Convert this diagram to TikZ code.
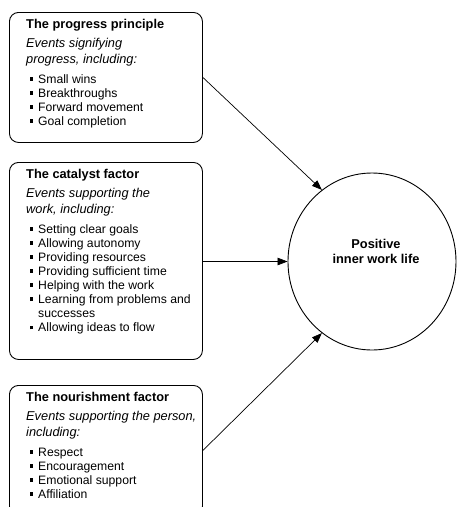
\documentclass[tikz,border=0pt]{standalone}
\usepackage{fontspec}
\setmainfont{Liberation Sans}
\usetikzlibrary{arrows.meta,shapes.geometric,calc}
\tikzset{
  box/.style={draw, line width=0.9pt, rounded corners=9pt, minimum width=193pt, inner sep=0pt, anchor=north west},
  ttl/.style={anchor=base west, inner sep=0pt, font=\fontsize{12.8}{14}\selectfont\bfseries},
  itl/.style={anchor=base west, inner sep=0pt, font=\fontsize{12.8}{14}\selectfont\itshape},
  itm/.style={anchor=base west, inner sep=0pt, font=\fontsize{12.2}{14}\selectfont},
  conn/.style={line width=0.7pt, -{Triangle[length=10pt,width=7.5pt]}},
}
\newcommand{\bul}{\makebox[0pt][r]{\rule[2.4pt]{3.8pt}{3.8pt}\hspace{4.8pt}}}
\begin{document}
\begin{tikzpicture}[x=1pt,y=-1pt]
\useasboundingbox (0,0) rectangle (457,507);
\clip (0,0) rectangle (457,507);
% boxes
\node[box, minimum height=130pt] (b1) at (9,12) {};
\node[box, minimum height=197pt] (b2) at (9,162) {};
\node[box, minimum height=130pt] (b3) at (9,385) {};
% box 1 text
\node[ttl] (t1) at (26,28) {The progress principle};
\node[itl] (e1a) at (26,47) {Events signifying};
\node[itl] (e1b) at (26,63) {progress, including:};
\foreach \t [count=\i] in {Small wins, Breakthroughs, Forward movement, Goal completion}
  \node[itm] (p\i) at (38,{83+14.1*(\i-1)}) {\bul\t};
% box 2 text
\node[ttl] (t2) at (26,178) {The catalyst factor};
\node[itl] (e2a) at (26,197) {Events supporting the};
\node[itl] (e2b) at (26,213) {work, including:};
\foreach \t [count=\i] in {Setting clear goals, Allowing autonomy, Providing resources, Providing sufficient time, Helping with the work, Learning from problems and}
  \node[itm] (c\i) at (38,{233+14.1*(\i-1)}) {\bul\t};
\node[itm] (c7) at (38,{233+14.1*6}) {successes};
\node[itm] (c8) at (38,{233+14.1*7}) {\bul Allowing ideas to flow};
% box 3 text
\node[ttl] (t3) at (26,401) {The nourishment factor};
\node[itl] (e3a) at (26,420) {Events supporting the person,};
\node[itl] (e3b) at (26,436) {including:};
\foreach \t [count=\i] in {Respect, Encouragement, Emotional support, Affiliation}
  \node[itm] (n\i) at (38,{456+14.1*(\i-1)}) {\bul\t};
% circle
\node[draw, line width=0.9pt, ellipse, minimum width=168pt, minimum height=177pt, inner sep=0pt] (c) at (372,261.5) {};
\node[align=center, inner sep=0pt, font=\fontsize{12.8}{15}\selectfont\bfseries] (ct) at (376,251) {Positive\\inner work life};
% connectors
\draw[conn] (b1.east) -- (c.125);
\draw[conn] (b2.east |- c.west) -- (c.west);
\draw[conn] (b3.east) -- (c.235);
\end{tikzpicture}
\end{document}
